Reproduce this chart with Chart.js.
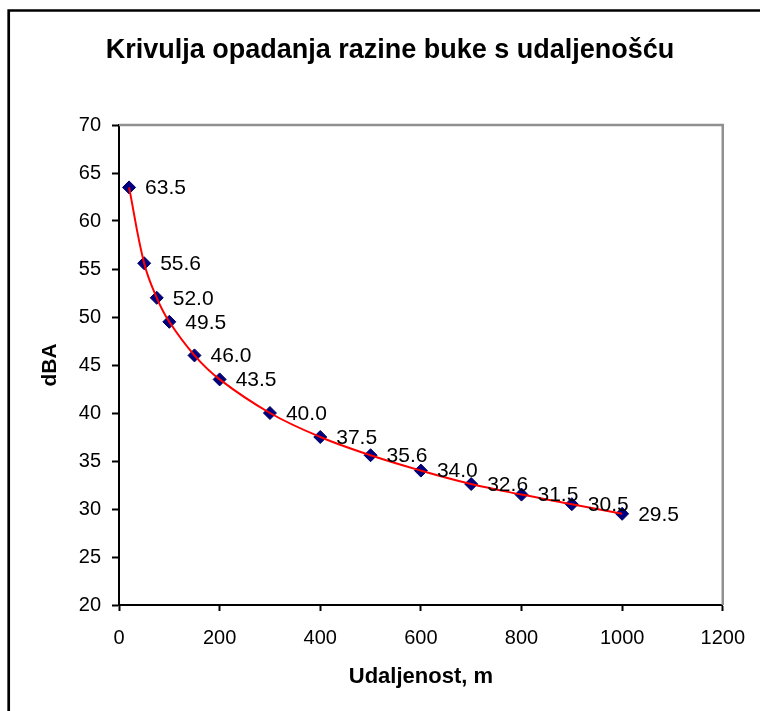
<!DOCTYPE html>
<html>
<head>
<meta charset="utf-8">
<script src="https://cdn.jsdelivr.net/npm/chart.js@4"></script>
<style>
  html, body { margin: 0; padding: 0; background: #fff; }
  #wrap { width: 760px; height: 711px; }
</style>
</head>
<body>
<div id="wrap"><canvas id="stage" width="760" height="711"></canvas></div>
<script>
// udaljenost (m) i razina buke (dBA)
var udaljenost = [20, 50, 75, 100, 150, 200, 300, 400, 500, 600, 700, 800, 900, 1000];
var razina = [63.5, 55.6, 52.0, 49.5, 46.0, 43.5, 40.0, 37.5, 35.6, 34.0, 32.6, 31.5, 30.5, 29.5];

var naslov = "Krivulja opadanja razine buke s udaljenošću";
var naslovX = "Udaljenost, m";
var naslovY = "dBA";

var font = "'Liberation Sans', Arial, sans-serif";

var tocke = udaljenost.map(function(x, i){ return {x: x, y: razina[i]}; });

// okvir, naslov, oznake vrijednosti
var crtanje = {
   id: 'crtanje',
   beforeDraw: function(chart){
      var ctx = chart.ctx;
      ctx.save();
      ctx.fillStyle = '#fff';
      ctx.fillRect(0, 0, chart.width, chart.height);
      ctx.strokeStyle = '#000';
      ctx.lineWidth = 2.7;
      ctx.beginPath();
      ctx.moveTo(8.7, chart.height);
      ctx.lineTo(8.7, 10.5);
      ctx.lineTo(chart.width, 10.5);
      ctx.stroke();
      ctx.fillStyle = '#000';
      ctx.font = 'bold 27px ' + font;
      ctx.textAlign = 'center';
      ctx.textBaseline = 'middle';
      ctx.fillText(naslov, 390, 51);
      ctx.restore();
   },
   beforeDatasetsDraw: function(chart){
      var a = chart.chartArea;
      var ctx = chart.ctx;
      ctx.save();
      ctx.strokeStyle = '#909090';
      ctx.lineWidth = 2.5;
      ctx.beginPath();
      ctx.moveTo(a.left, a.top);
      ctx.lineTo(a.right, a.top);
      ctx.lineTo(a.right, a.bottom);
      ctx.stroke();
      ctx.restore();
   },
   afterDatasetsDraw: function(chart){
      var ctx = chart.ctx;
      var meta = chart.getDatasetMeta(1);
      ctx.save();
      ctx.fillStyle = '#000';
      ctx.font = '21px ' + font;
      ctx.textAlign = 'left';
      ctx.textBaseline = 'middle';
      meta.data.forEach(function(p, i){
         ctx.fillText(razina[i].toFixed(1), p.x + 16, p.y + 1);
      });
      ctx.restore();
   }
};

var canvas = document.getElementById('stage');
var chart = new Chart(canvas, {
   type: 'scatter',
   data: {
      datasets: [
         {
            type: 'line',
            data: tocke,
            borderColor: '#ff0000',
            borderWidth: 2,
            pointRadius: 0,
            tension: 0.4,
            fill: false
         },
         {
            data: tocke,
            pointStyle: 'rectRot',
            pointRadius: 6.5,
            backgroundColor: '#000080',
            borderColor: '#000060',
            borderWidth: 1
         }
      ]
   },
   options: {
      responsive: false,
      animation: false,
      layout: { padding: { top: 125, right: 36, bottom: 0, left: 0 } },
      plugins: {
         legend: { display: false },
         tooltip: { enabled: false },
         title: { display: false }
      },
      scales: {
         x: {
            type: 'linear',
            min: 0,
            max: 1200,
            ticks: {
               stepSize: 200, color: '#000', font: { family: font, size: 20 }, padding: 15, maxRotation: 0,
               callback: function(v){ return String(v); }
            },
            grid: { drawOnChartArea: false, tickLength: 6, tickColor: '#000', tickWidth: 2 },
            border: { color: '#000', width: 2 },
            title: { display: true, text: naslovX, color: '#000', font: { family: font, size: 22, weight: 'bold' }, padding: { top: 0, bottom: 21 } },
            afterFit: function(s){ s.height = 106; }
         },
         y: {
            min: 20,
            max: 70,
            ticks: { stepSize: 5, color: '#000', font: { family: font, size: 20 }, padding: 11 },
            grid: { drawOnChartArea: false, tickLength: 7, tickColor: '#000', tickWidth: 2 },
            border: { color: '#000', width: 2 },
            title: { display: true, text: naslovY, color: '#000', font: { family: font, size: 21, weight: 'bold' }, padding: { top: 38, bottom: 0 } },
            afterFit: function(s){ s.width = 119; }
         }
      }
   },
   plugins: [crtanje]
});
</script>
</body>
</html>
